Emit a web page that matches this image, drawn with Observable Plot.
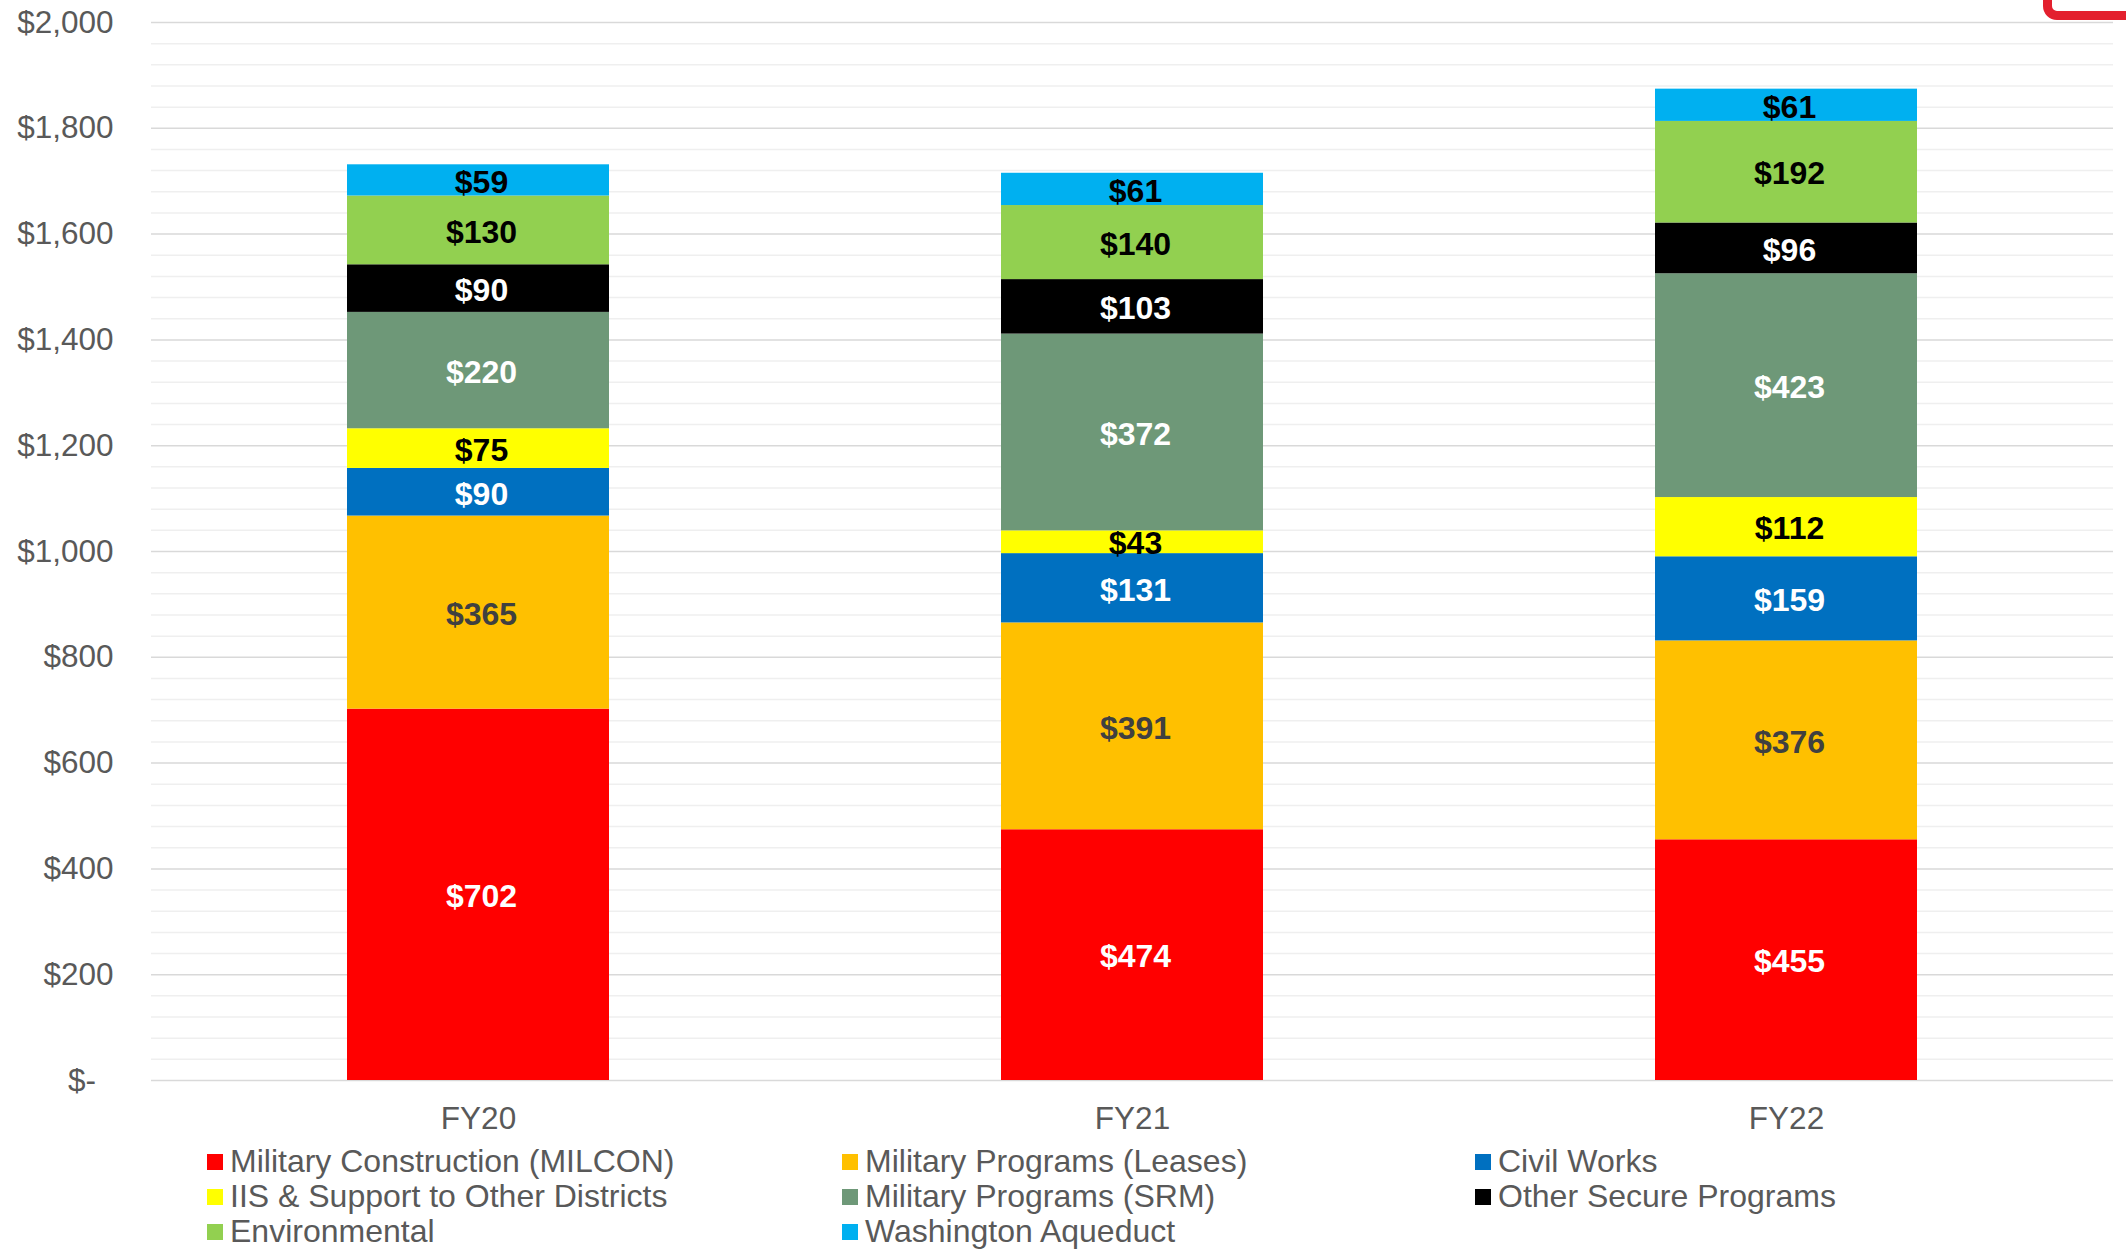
<!DOCTYPE html>
<html>
<head>
<meta charset="utf-8">
<script src="https://cdn.jsdelivr.net/npm/d3@7"></script>
<script src="https://cdn.jsdelivr.net/npm/@observablehq/plot@0.6"></script>
<style>
  html, body { margin: 0; padding: 0; background: #fff; }
  #wrap { position: relative; width: 2126px; height: 1250px; overflow: hidden; font-family: "Liberation Sans", Arial, sans-serif; }
  #legend { display: grid; grid-template-columns: 635px 633px auto; padding-left: 207px; font-size: 32px; color: #595959; }
  .item { display: flex; align-items: center; height: 35px; white-space: nowrap; }
  .sw { width: 16px; height: 16px; margin-right: 7px; flex: none; }
  #deco { position: absolute; left: 2043px; top: -40px; width: 120px; height: 60px; box-sizing: border-box; border: 9px solid #E3202E; border-radius: 14px; }
</style>
</head>
<body>
<div id="wrap">
  <div id="chart"></div>
  <div id="legend"></div>
  <div id="deco"></div>
</div>
<script>
// ---- data ----
const years = ["FY20", "FY21", "FY22"];
const seriesNames = [
  "Military Construction (MILCON)",
  "Military Programs (Leases)",
  "Civil Works",
  "IIS & Support to Other Districts",
  "Military Programs (SRM)",
  "Other Secure Programs",
  "Environmental",
  "Washington Aqueduct"
];
const milcon      = [702, 474, 455];
const leases      = [365, 391, 376];
const civilWorks  = [90, 131, 159];
const iisSupport  = [75, 43, 112];
const srm         = [220, 372, 423];
const otherSecure = [90, 103, 96];
const environmental = [130, 140, 192];
const aqueduct    = [59, 61, 61];
const yTicks = [0, 200, 400, 600, 800, 1000, 1200, 1400, 1600, 1800, 2000];

// ---- styles ----
const seriesColors = ["#FF0000", "#FFC000", "#0070C0", "#FFFF00", "#6E9878", "#000000", "#92D050", "#00B0F0"];
const labelColors  = ["#FFFFFF", "#404040", "#FFFFFF", "#000000", "#FFFFFF", "#FFFFFF", "#000000", "#000000"];

const seriesValues = [milcon, leases, civilWorks, iisSupport, srm, otherSecure, environmental, aqueduct];
const rows = [];
seriesNames.forEach((s, i) => {
  years.forEach((y, j) => rows.push({year: y, series: s, value: seriesValues[i][j], labelColor: labelColors[i]}));
});

const minorTicks = d3.range(0, 2001, 40).filter(v => v % 200 !== 0);
const fmt = d3.format(",");

const stackOpts = {x: "year", y: "value", z: "series", order: seriesNames};

const textMark = (c) => Plot.text(rows, Plot.filter(d => d.labelColor === c, Plot.stackY({
  ...stackOpts,
  text: d => "$" + d.value,
  fill: c,
  fontSize: 32,
  fontWeight: "bold",
  dx: 3,
  dy: 2
})));

const chart = Plot.plot({
  width: 2126,
  height: 1144,
  marginTop: 22,
  marginBottom: 64,
  marginLeft: 151,
  marginRight: 13,
  style: {fontFamily: "'Liberation Sans', Arial, sans-serif", background: "#fff"},
  x: {domain: years, paddingInner: 0.6, paddingOuter: 0.3, label: null},
  y: {domain: [0, 2000], label: null},
  color: {domain: seriesNames, range: seriesColors},
  marks: [
    Plot.ruleY(minorTicks, {stroke: "#EFEFEF", strokeWidth: 1.5}),
    Plot.ruleY(yTicks, {stroke: "#D9D9D9", strokeWidth: 1.5}),
    Plot.barY(rows, Plot.stackY({...stackOpts, fill: "series"})),
    textMark("#FFFFFF"),
    textMark("#404040"),
    textMark("#000000"),
    Plot.axisY(yTicks, {
      tickSize: 0, tickPadding: 38, fontSize: 31.5, color: "#595959",
      tickFormat: d => d === 0 ? "$-\u2007" : "$" + fmt(d)
    }),
    Plot.axisX({tickSize: 0, tickPadding: 26, fontSize: 31.5, color: "#595959"})
  ]
});
document.getElementById("chart").appendChild(chart);

// ---- legend ----
const legend = document.getElementById("legend");
seriesNames.forEach((s, i) => {
  const item = document.createElement("div");
  item.className = "item";
  const sw = document.createElement("span");
  sw.className = "sw";
  sw.style.background = seriesColors[i];
  const t = document.createElement("span");
  t.textContent = s;
  item.appendChild(sw);
  item.appendChild(t);
  legend.appendChild(item);
});
</script>
</body>
</html>
